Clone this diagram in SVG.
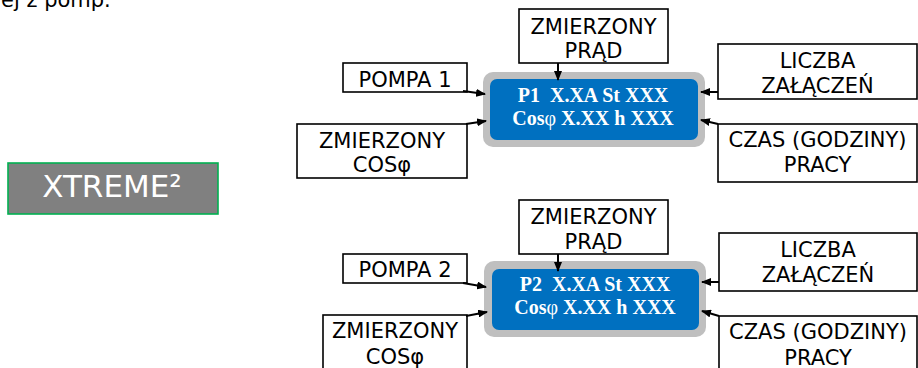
<svg xmlns="http://www.w3.org/2000/svg" width="918" height="368" viewBox="0 0 918 368">
<style>
.box{fill:#fff;stroke:#000;stroke-width:1.6}
.lbl{font-family:"DejaVu Sans",Verdana,sans-serif;font-size:21px;fill:#000;text-anchor:middle}
.outer{fill:#BFBFBF}
.inner{fill:#0070C0}
.disp{font-family:"Liberation Serif","Times New Roman",serif;font-size:20px;font-weight:bold;fill:#fff;text-anchor:middle;white-space:pre}
.phi{font-weight:normal}
.con{stroke:#000;stroke-width:2;fill:none;marker-end:url(#ah)}
</style>
<defs>
<marker id="ah" markerWidth="10" markerHeight="8" refX="9" refY="4" orient="auto" markerUnits="userSpaceOnUse">
<path d="M0,0 L10,4 L0,8 Z" fill="#000"/>
</marker>
</defs>
<rect width="918" height="368" fill="#fff"/>
<text x="1" y="7" style="font-family:'DejaVu Sans',Verdana,sans-serif;font-size:21px;fill:#000">ej z pomp.</text>

<g id="xtreme">
<rect x="8" y="163" width="210" height="51" fill="#808080" stroke="#00B050" stroke-width="1.6"/>
<text x="112" y="197" style="font-family:'DejaVu Sans',Verdana,sans-serif;font-size:31px;fill:#fff;text-anchor:middle">XTREME²</text>
</g>

<g id="display1">
<rect class="outer" x="483" y="72" width="222" height="75" rx="10"/>
<rect class="inner" x="490" y="79" width="208" height="61" rx="7"/>
<text class="disp" x="593" y="102">P1  X.XA St XXX</text>
<text class="disp" x="593" y="125">Cos<tspan class="phi">φ</tspan> X.XX h XXX</text>
</g>
<g id="prad1">
<rect class="box" x="519" y="9" width="149" height="54"/>
<text class="lbl" x="593.5" y="34">ZMIERZONY</text>
<text class="lbl" x="593.5" y="58">PRĄD</text>
</g>
<g id="pompa1">
<rect class="box" x="343" y="63" width="124" height="29"/>
<text class="lbl" x="405" y="87">POMPA 1</text>
</g>
<g id="cos1">
<rect class="box" x="297" y="124" width="170" height="54"/>
<text class="lbl" x="382" y="148">ZMIERZONY</text>
<text class="lbl" x="382" y="172">COSφ</text>
</g>
<g id="liczba1">
<rect class="box" x="718" y="44" width="199" height="55"/>
<text class="lbl" x="817.5" y="68">LICZBA</text>
<text class="lbl" x="817.5" y="93">ZAŁĄCZEŃ</text>
</g>
<g id="czas1">
<rect class="box" x="718" y="124" width="199" height="58"/>
<text class="lbl" x="817.5" y="147">CZAS (GODZINY)</text>
<text class="lbl" x="817.5" y="172">PRACY</text>
</g>

<g id="display2">
<rect class="outer" x="484" y="261" width="222" height="76" rx="10"/>
<rect class="inner" x="492" y="269" width="207" height="61" rx="7"/>
<text class="disp" x="595" y="291">P2  X.XA St XXX</text>
<text class="disp" x="595" y="314">Cos<tspan class="phi">φ</tspan> X.XX h XXX</text>
</g>
<g id="prad2">
<rect class="box" x="519" y="200" width="149" height="54"/>
<text class="lbl" x="593.5" y="224">ZMIERZONY</text>
<text class="lbl" x="593.5" y="249">PRĄD</text>
</g>
<g id="pompa2">
<rect class="box" x="343" y="254" width="124" height="29"/>
<text class="lbl" x="405" y="277">POMPA 2</text>
</g>
<g id="cos2">
<rect class="box" x="323" y="315" width="144" height="60"/>
<text class="lbl" x="395" y="338">ZMIERZONY</text>
<text class="lbl" x="395" y="364">COSφ</text>
</g>
<g id="liczba2">
<rect class="box" x="719" y="233" width="198" height="58"/>
<text class="lbl" x="818" y="257">LICZBA</text>
<text class="lbl" x="818" y="282">ZAŁĄCZEŃ</text>
</g>
<g id="czas2">
<rect class="box" x="719" y="316" width="198" height="60"/>
<text class="lbl" x="818" y="339">CZAS (GODZINY)</text>
<text class="lbl" x="818" y="365">PRACY</text>
</g>

<g id="connectors">
<path class="con" d="M558,63 L558,80"/>
<path class="con" d="M463,91 L485,94"/>
<path class="con" d="M466,124 L486,121"/>
<path class="con" d="M718,92 L701,92"/>
<path class="con" d="M718,124 L701,120"/>
<path class="con" d="M558,254 L558,271"/>
<path class="con" d="M463,283 L486,287"/>
<path class="con" d="M466,316 L487,312"/>
<path class="con" d="M719,282 L702,282"/>
<path class="con" d="M719,316 L702,311"/>
</g>
</svg>
